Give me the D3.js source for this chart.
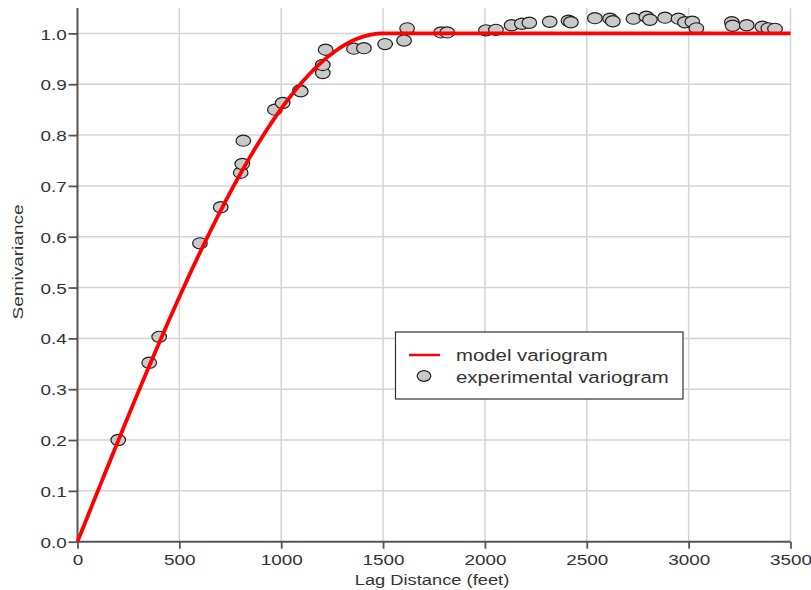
<!DOCTYPE html>
<html>
<head>
<meta charset="utf-8">
<script src="https://cdn.jsdelivr.net/npm/d3@7"></script>
<style>
  html, body { margin: 0; padding: 0; background: #fff; }
  svg { display: block; }
  text { font-family: "Liberation Sans", Arial, Helvetica, sans-serif; fill: #333; }
</style>
</head>
<body>
<svg id="chart" width="811" height="590"></svg>
<script>
// Experimental variogram: lag distance (feet) and semivariance
const lagDistance = [
  200, 352, 401, 601, 703, 801, 809, 814, 969, 1007, 1092, 1096,
  1204, 1204, 1218, 1357, 1406, 1510, 1603, 1618, 1785, 1815,
  2005, 2054, 2131, 2181, 2218, 2318, 2410, 2422, 2540, 2614, 2628,
  2729, 2792, 2810, 2884, 2950, 2982, 3018, 3038,
  3212, 3216, 3285, 3362, 3391, 3424
];
const semivariance = [
  0.200, 0.352, 0.403, 0.587, 0.658, 0.726, 0.743, 0.789, 0.850, 0.863, 0.888, 0.886,
  0.922, 0.938, 0.968, 0.970, 0.971, 0.979, 0.986, 1.010, 1.002, 1.002,
  1.006, 1.007, 1.016, 1.019, 1.021, 1.023, 1.025, 1.022, 1.030, 1.029, 1.024,
  1.029, 1.033, 1.027, 1.031, 1.029, 1.022, 1.023, 1.010,
  1.022, 1.015, 1.016, 1.013, 1.010, 1.009
];

// Spherical model parameters
const modelNugget = 0;
const modelSill = 1.0;
const modelRange = 1500;

const xTicks = [0, 500, 1000, 1500, 2000, 2500, 3000, 3500];
const yTicks = [0.0, 0.1, 0.2, 0.3, 0.4, 0.5, 0.6, 0.7, 0.8, 0.9, 1.0];

const legendLabels = ["model variogram", "experimental variogram"];

// horizontal stretch applied to glyphs and markers
const SX = 1.22;

const svg = d3.select("#chart");
const plot = { left: 77.5, right: 790.5, top: 8, bottom: 541.7 };

const x = d3.scaleLinear().domain([0, 3500]).range([plot.left, plot.right]);
const y = d3.scaleLinear().domain([0, 1.05]).range([plot.bottom, plot.top]);

// grid
const grid = svg.append("g").attr("stroke", "#d4d4d4").attr("stroke-width", 1.5);
grid.selectAll("line.h").data(yTicks.filter(d => d > 0)).join("line")
  .attr("x1", plot.left).attr("x2", plot.right)
  .attr("y1", d => y(d)).attr("y2", d => y(d));
grid.selectAll("line.v").data(xTicks.filter(d => d > 0)).join("line")
  .attr("x1", d => x(d)).attr("x2", d => x(d))
  .attr("y1", plot.top).attr("y2", plot.bottom);

// axes
const xAxis = svg.append("g")
  .attr("transform", `translate(0,${plot.bottom})`)
  .call(d3.axisBottom(x).tickValues(xTicks).tickFormat(d3.format("d")).tickSizeOuter(0).tickSize(7).tickPadding(4));
const yAxis = svg.append("g")
  .attr("transform", `translate(${plot.left},0)`)
  .call(d3.axisLeft(y).tickValues(yTicks).tickFormat(d3.format(".1f")).tickSizeOuter(0).tickSize(9));

[xAxis, yAxis].forEach(a => {
  a.select(".domain").attr("stroke", "#555").attr("stroke-width", 2);
  a.selectAll(".tick line").attr("stroke", "#555").attr("stroke-width", 1.8);
  a.selectAll(".tick text")
    .attr("font-family", "Liberation Sans, Arial, sans-serif")
    .attr("font-size", 15.5).attr("fill", "#333");
});
// y axis domain covers the full vertical extent
yAxis.select(".domain").attr("d", `M0,${plot.top}V${plot.bottom}`);
xAxis.select(".domain").attr("d", `M${plot.left},0H${plot.right}`);

xAxis.selectAll(".tick text").attr("transform", `scale(${SX},1)`).attr("dy", "0.71em").attr("y", 12);
yAxis.selectAll(".tick text").attr("transform", `scale(${SX},1)`).attr("x", -10.8 / SX).attr("dy", "0.36em");

// axis titles
svg.append("text")
  .attr("transform", `translate(432,585) scale(${SX},1)`)
  .attr("text-anchor", "middle").attr("font-size", 15)
  .text("Lag Distance (feet)");
svg.append("text")
  .attr("transform", `translate(23,262) rotate(-90)`)
  .attr("text-anchor", "middle").attr("font-size", 14)
  .attr("textLength", 115).attr("lengthAdjust", "spacingAndGlyphs")
  .text("Semivariance");

// experimental points
const pts = lagDistance.map((d, i) => ({ h: d, g: semivariance[i] }));
svg.append("g").selectAll("ellipse").data(pts).join("ellipse")
  .attr("cx", d => x(d.h)).attr("cy", d => y(d.g))
  .attr("rx", 7.3).attr("ry", 5.6)
  .attr("fill", "#c9c9c9").attr("stroke", "#1e1e1e").attr("stroke-width", 1.2);

// spherical model curve
function spherical(h) {
  if (h >= modelRange) return modelNugget + modelSill;
  const r = h / modelRange;
  return modelNugget + modelSill * (1.5 * r - 0.5 * r * r * r);
}
const hs = d3.range(0, 3500 + 1, 10);
svg.append("path")
  .datum(hs)
  .attr("fill", "none").attr("stroke", "#ff0000").attr("stroke-width", 3.8)
  .attr("d", d3.line().x(h => x(h)).y(h => y(spherical(h))));

// legend
const lg = svg.append("g");
lg.append("rect").attr("x", 395.5).attr("y", 332).attr("width", 287.5).attr("height", 67)
  .attr("fill", "#fff").attr("stroke", "#333").attr("stroke-width", 1.2);
lg.append("line").attr("x1", 409).attr("x2", 440).attr("y1", 355).attr("y2", 355)
  .attr("stroke", "#ff0000").attr("stroke-width", 2.5);
lg.append("ellipse").attr("cx", 424).attr("cy", 376).attr("rx", 6.8).attr("ry", 5.4)
  .attr("fill", "#c9c9c9").attr("stroke", "#1e1e1e").attr("stroke-width", 1.2);
legendLabels.forEach((t, i) => {
  lg.append("text")
    .attr("transform", `translate(456,${361 + i * 21.5}) scale(${SX},1)`)
    .attr("font-size", 16.7).attr("fill", "#333")
    .text(t);
});
</script>
</body>
</html>
